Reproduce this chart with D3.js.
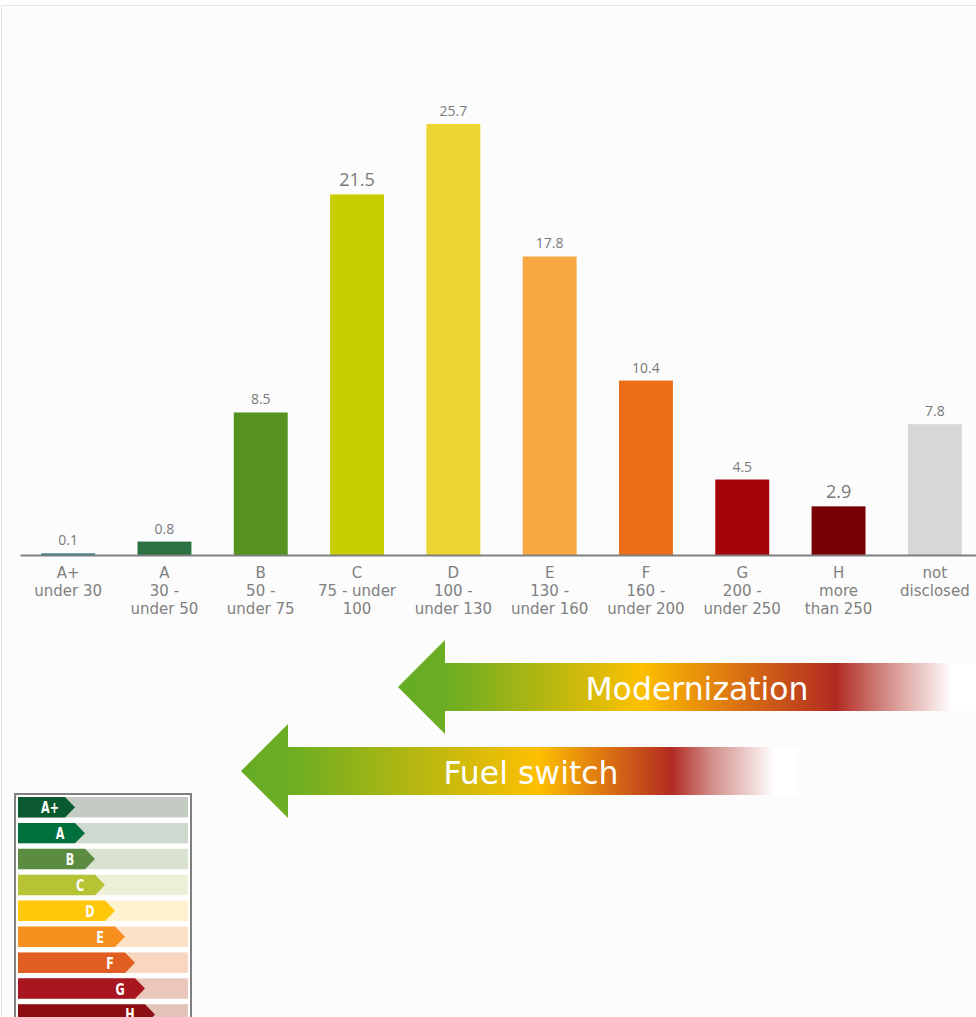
<!DOCTYPE html>
<html>
<head>
<meta charset="utf-8">
<script src="https://cdn.jsdelivr.net/npm/d3@7"></script>
<style>
  html, body { margin: 0; padding: 0; background: #ffffff; }
  svg { display: block; }
</style>
</head>
<body>
<script>
// ---- data ----
const categories = ["A+", "A", "B", "C", "D", "E", "F", "G", "H", "not disclosed"];
const values = [0.1, 0.8, 8.5, 21.5, 25.7, 17.8, 10.4, 4.5, 2.9, 7.8];
const labelLines = [
  ["A+", "under 30"],
  ["A", "30 -", "under 50"],
  ["B", "50 -", "under 75"],
  ["C", "75 - under", "100"],
  ["D", "100 -", "under 130"],
  ["E", "130 -", "under 160"],
  ["F", "160 -", "under 200"],
  ["G", "200 -", "under 250"],
  ["H", "more", "than 250"],
  ["not", "disclosed"]
];
const barColors = ["#2e7f97", "#2b7141", "#55921f", "#c8cf00", "#eed536", "#f7a941", "#ec6d18", "#a6020a", "#780004", "#d6d7d9"];
const largeLabelCats = ["C", "H"];

const arrowTexts = ["Modernization", "Fuel switch"];

const legendLabels = ["A+", "A", "B", "C", "D", "E", "F", "G", "H"];
const legendColors = ["#0b5a2f", "#00703c", "#5b8c42", "#b5c334", "#ffc80a", "#f7901e", "#e05e20", "#a8171f", "#8b0e12"];
const legendBg = ["#c3cbc3", "#cfd9d0", "#d9e1cf", "#ebf0d6", "#fff2d0", "#fde2c8", "#f8d6c0", "#ebc7bb", "#e4c4b8"];

// ---- drawing ----
const W = 976, H = 1017;
const svg = d3.select("body").append("svg").attr("width", W).attr("height", H);

// panel background
svg.append("rect").attr("x", 1.5).attr("y", 5.5).attr("width", W + 10).attr("height", H + 10)
  .attr("fill", "#fcfcfc").attr("stroke", "#e4e4e4").attr("stroke-width", 1);

const baseY = 555;
const x = d3.scaleBand().domain(categories).range([20, 983]).paddingInner(0.44).paddingOuter(0.22);
const y = d3.scaleLinear().domain([0, 25.7]).range([baseY, 124]);

// bars
svg.append("g").selectAll("rect").data(categories).join("rect")
  .attr("x", d => x(d))
  .attr("width", x.bandwidth())
  .attr("y", (d, i) => y(values[i]))
  .attr("height", (d, i) => baseY - y(values[i]))
  .attr("fill", (d, i) => barColors[i]);

// value labels
svg.append("g").selectAll("text").data(categories).join("text")
  .attr("x", d => x(d) + x.bandwidth() / 2)
  .attr("y", (d, i) => y(values[i]) - 8)
  .attr("text-anchor", "middle")
  .attr("font-family", "'Open Sans', sans-serif")
  .attr("font-size", d => largeLabelCats.includes(d) ? 18 : 14)
  .attr("fill", "#7a7a7a")
  .text((d, i) => values[i].toFixed(1));

// axis
const axis = d3.axisBottom(x).tickSize(0).tickFormat("");
const gAxis = svg.append("g").attr("transform", `translate(0,${baseY})`).call(axis);
gAxis.select(".domain").attr("stroke", "#7f7f7f").attr("stroke-width", 2.2);

// axis labels
const lbl = svg.append("g");
categories.forEach((c, i) => {
  const cx = x(c) + x.bandwidth() / 2;
  const t = lbl.append("text")
    .attr("x", cx)
    .attr("y", 578)
    .attr("text-anchor", "middle")
    .attr("font-family", "'DejaVu Sans', Verdana, sans-serif")
    .attr("font-size", 15)
    .attr("fill", "#808080");
  labelLines[i].forEach((ln, j) => {
    t.append("tspan").attr("x", cx).attr("y", 578 + j * 18).text(ln);
  });
});

// gradient arrows
const defs = svg.append("defs");
function makeGrad(id, x0, x1, stops) {
  const g = defs.append("linearGradient").attr("id", id)
    .attr("gradientUnits", "userSpaceOnUse")
    .attr("x1", x0).attr("x2", x1).attr("y1", 0).attr("y2", 0);
  stops.forEach(s => g.append("stop").attr("offset", (s[0] - x0) / (x1 - x0)).attr("stop-color", s[1]));
}
const arrows = [
  { tip: 398, headX: 445, end: 976, cy: 687, headHalf: 47, bodyHalf: 24, textX: 697, textY: 700,
    stops: [[398, "#64ac25"], [450, "#6dae22"], [642, "#fdc000"], [730, "#dd7810"], [836, "#b22a22"], [880, "#cf7f79"], [952, "#ffffff"], [976, "#ffffff"]] },
  { tip: 241, headX: 288, end: 798, cy: 771, headHalf: 47, bodyHalf: 24, textX: 531, textY: 784,
    stops: [[241, "#64ac25"], [293, "#6dae22"], [538, "#fdc000"], [600, "#df7a10"], [672, "#b22a22"], [710, "#d08a85"], [775, "#ffffff"], [798, "#ffffff"]] }
];
arrows.forEach((a, i) => {
  makeGrad("ag" + i, a.tip, a.end, a.stops);
  const p = d3.path();
  p.moveTo(a.tip, a.cy);
  p.lineTo(a.headX, a.cy - a.headHalf);
  p.lineTo(a.headX, a.cy - a.bodyHalf);
  p.lineTo(a.end, a.cy - a.bodyHalf);
  p.lineTo(a.end, a.cy + a.bodyHalf);
  p.lineTo(a.headX, a.cy + a.bodyHalf);
  p.lineTo(a.headX, a.cy + a.headHalf);
  p.closePath();
  svg.append("path").attr("d", p.toString()).attr("fill", `url(#ag${i})`);
  svg.append("text").attr("x", a.textX).attr("y", a.textY)
    .attr("text-anchor", "middle")
    .attr("font-family", "'DejaVu Sans', Verdana, sans-serif")
    .attr("font-size", 31.5)
    .attr("fill", "#ffffff")
    .text(arrowTexts[i]);
});

// energy label legend
const lg = svg.append("g");
lg.append("rect").attr("x", 15).attr("y", 794).attr("width", 176).attr("height", 240)
  .attr("fill", "#ffffff").attr("stroke", "#808080").attr("stroke-width", 2);
const rowY = d3.scaleBand().domain(legendLabels).range([797, 797 + 25.3 * 9]).paddingInner(0.21);
legendLabels.forEach((l, i) => {
  const yy = rowY(l), hh = rowY.bandwidth();
  lg.append("rect").attr("x", 18).attr("y", yy).attr("width", 170).attr("height", hh).attr("fill", legendBg[i]);
  const rEnd = 65 + i * 10;
  const p = d3.path();
  p.moveTo(18, yy); p.lineTo(rEnd, yy); p.lineTo(rEnd + 10, yy + hh / 2); p.lineTo(rEnd, yy + hh); p.lineTo(18, yy + hh); p.closePath();
  lg.append("path").attr("d", p.toString()).attr("fill", legendColors[i]);
  const tx = rEnd - 15, ty = yy + hh / 2 + 6;
  lg.append("text")
    .attr("transform", `translate(${tx},${ty}) scale(0.7,1)`)
    .attr("text-anchor", "middle")
    .attr("font-family", "'DejaVu Sans', sans-serif")
    .attr("font-weight", 600)
    .attr("font-size", 16)
    .attr("fill", "#ffffff")
    .text(l);
});
</script>
</body>
</html>
